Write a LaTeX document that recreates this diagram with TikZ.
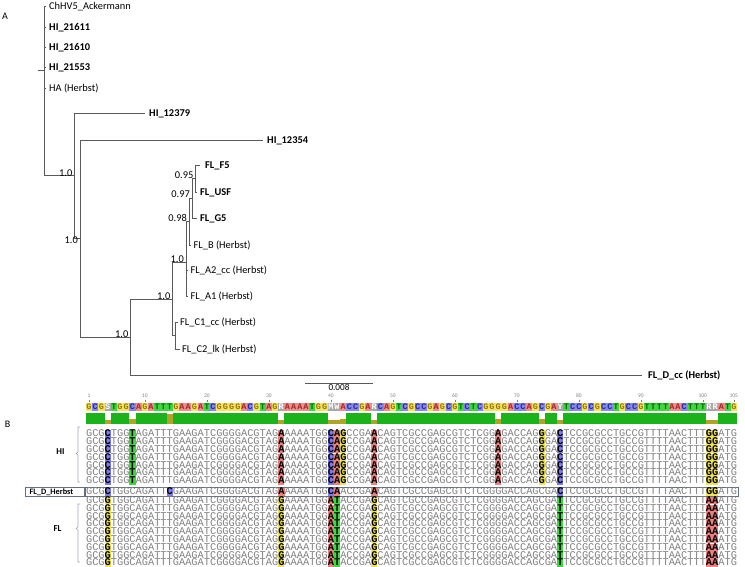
\documentclass[tikz,border=0pt]{standalone}
\usepackage{fontspec}
\setmainfont{Carlito}
\newfontfamily\seqfont{Liberation Mono}
\definecolor{treeline}{RGB}{90,90,90}
\definecolor{seqgray}{RGB}{128,128,128}
\definecolor{hlA}{RGB}{236,128,128}
\definecolor{hlC}{RGB}{124,124,236}
\definecolor{hlG}{RGB}{240,228,80}
\definecolor{hlT}{RGB}{60,216,60}
\definecolor{conA}{RGB}{238,140,140}
\definecolor{conC}{RGB}{136,136,230}
\definecolor{conG}{RGB}{244,226,100}
\definecolor{conT}{RGB}{64,214,64}
\definecolor{conN}{RGB}{168,168,168}
\colorlet{conS}{conN}\colorlet{conM}{conN}\colorlet{conW}{conN}
\colorlet{conR}{conN}\colorlet{conY}{conN}
\definecolor{txtA}{RGB}{160,40,40}
\definecolor{txtC}{RGB}{40,40,160}
\definecolor{txtG}{RGB}{150,120,0}
\definecolor{txtT}{RGB}{0,110,0}
\colorlet{txtS}{white}\colorlet{txtM}{white}\colorlet{txtW}{white}
\colorlet{txtR}{white}\colorlet{txtY}{white}
\definecolor{idgreen}{RGB}{28,178,28}
\definecolor{idolive}{RGB}{176,164,40}
\definecolor{boxgray}{RGB}{100,112,128}
\definecolor{bracegray}{RGB}{160,168,184}
\newcommand\mk[1]{\makebox[0pt][l]{\color{hl#1}\rule[-0.9pt]{6.2pt}{7.7pt}}\textcolor{black}{\bfseries #1}}
\newcommand\hiseq{GCG\mk{C}TGG\mk{T}AGATTTGAAGATCGGGGACGTAG\mk{A}AAAATGG\mk{C}\mk{A}\mk{G}CCGA\mk{A}CAGTCGCCGAGCGTCTCGG\mk{A}GACCAG\mk{G}GA\mk{C}TCCGCGCCTGCCGTTTTAACTTT\mk{G}\mk{G}ATG}
\newcommand\fldseq{GCG\mk{C}TGGCAGATT\mk{C}GAAGATCGGGGACGTAG\mk{A}AAAATGG\mk{C}\mk{A}ACCGA\mk{A}CAGTCGCCGAGCGTCTCGGGGACCAGCGA\mk{C}TCCGCGCCTGCCGTTTTAACTTT\mk{G}\mk{G}ATG}
\newcommand\flseq{GCG\mk{G}TGGCAGATTTGAAGATCGGGGACGTAG\mk{G}AAAATGG\mk{A}\mk{T}ACCGA\mk{G}CAGTCGCCGAGCGTCTCGGGGACCAGCGA\mk{T}TCCGCGCCTGCCGTTTTAACTTT\mk{A}\mk{A}ATG}
\begin{document}
\begin{tikzpicture}[x=1pt,y=-1pt,
  leaf/.style={anchor=west,inner xsep=3pt,inner ysep=0pt,text height=6.7pt,text depth=0pt,font=\fontsize{10.4}{12}\selectfont},
  strain/.style={leaf,font=\fontsize{10.4}{12}\selectfont\bfseries},
  supp/.style={anchor=south east,inner sep=0pt,font=\fontsize{10.4}{12}\selectfont},
  branch/.style={draw=treeline,line width=0.75pt},
  seqrow/.style={anchor=west,inner sep=0pt,text height=5.9pt,text depth=0pt,text=seqgray,font=\seqfont\fontsize{10.33}{10}\selectfont},
  cons/.style={inner sep=0pt,minimum width=6.2pt,minimum height=8.4pt,font=\seqfont\bfseries\fontsize{8.5}{8}\selectfont},
  ruler/.style={inner sep=0pt,text=gray,font=\fontsize{5.5}{6}\selectfont}]
\useasboundingbox (0,0) rectangle (745,567);
\node (pa) at (5,16) {\fontsize{10}{12}\selectfont A};
\node (pb) at (7.5,424) {\fontsize{10}{12}\selectfont B};

\coordinate (r0) at (38,70);
\coordinate (r) at (44,70);
\coordinate (n1) at (74,175.75);
\coordinate (n2) at (80,238.5);
\coordinate (n3) at (130,337);
\coordinate (n4) at (172,299);
\coordinate (n5) at (186,262.5);
\coordinate (n6) at (175,335.5);
\coordinate (n7) at (189,221.6);
\coordinate (n8) at (192,198.2);
\coordinate (n9) at (195,178.5);

\node[leaf] (chhv) at (46,6) {ChHV5\_Ackermann};
\node[strain] (hi21611) at (46,27) {HI\_21611};
\node[strain] (hi21610) at (46,47) {HI\_21610};
\node[strain] (hi21553) at (46,67) {HI\_21553};
\node[leaf] (ha) at (46,88) {HA (Herbst)};
\node[strain,inner xsep=4pt] (hi12379) at (145,113) {HI\_12379};
\node[strain,inner xsep=4pt] (hi12354) at (263,140) {HI\_12354};
\node[strain,inner xsep=5pt] (flf5) at (200,165) {FL\_F5};
\node[strain] (flusf) at (197,192) {FL\_USF};
\node[strain] (flg5) at (197,218) {FL\_G5};
\node[leaf,inner xsep=2.5pt] (flb) at (191,245) {FL\_B (Herbst)};
\node[leaf,inner xsep=2.5pt] (fla2) at (188,270) {FL\_A2\_cc (Herbst)};
\node[leaf,inner xsep=2.5pt] (fla1) at (188,296) {FL\_A1 (Herbst)};
\node[leaf,inner xsep=2.5pt] (flc1) at (177.5,322) {FL\_C1\_cc (Herbst)};
\node[leaf,inner xsep=2.5pt] (flc2) at (179.5,349) {FL\_C2\_lk (Herbst)};
\node[strain,inner xsep=6pt] (fldcc) at (642,375) {FL\_D\_cc (Herbst)};

\draw[branch] (r0) -- (r)
  (r) |- (chhv.west) (r) |- (hi21611.west) (r) |- (hi21610.west)
  (r) |- (hi21553.west) (r) |- (ha.west) (r) |- (n1)
  (n1) |- (hi12379.west) (n1) |- (n2)
  (n2) |- (hi12354.west) (n2) |- (n3)
  (n3) |- (n4) (n3) |- (fldcc.west)
  (n4) |- (n5) (n4) |- (n6)
  (n6) |- (flc1.west) (n6) |- (flc2.west)
  (n5) |- (n7) (n5) |- (fla2.west) (n5) |- (fla1.west)
  (n7) |- (n8) (n7) |- (flb.west)
  (n8) |- (n9) (n8) |- (flg5.west)
  (n9) |- (flf5.west) (n9) |- (flusf.west);

\node[supp] (s9) at ([xshift=-1.5pt]n9) {0.95};
\node[supp] (s8) at ([xshift=-2pt]n8) {0.97};
\node[supp] (s7) at ([xshift=-2pt]n7) {0.98};
\node[supp] (s5) at ([xshift=-2pt]n5) {1.0};
\node[supp] (s4) at ([xshift=-1.5pt,yshift=-1pt]n4) {1.0};
\node[supp] (s3) at ([xshift=-1.5pt,yshift=-1pt]n3) {1.0};
\node[supp] (s1) at ([xshift=-1.5pt,yshift=-1pt]n1) {1.0};
\node[supp,anchor=north east] (s2) at ([xshift=-2pt,yshift=2pt]n2) {1.0};

\coordinate (sb1) at (305,383);
\coordinate (sb2) at (373,383);
\draw[treeline,line width=0.75pt] (sb1) -- node[below=1pt,inner sep=0pt,text=black,font=\fontsize{9.2}{10}\selectfont] (sblab) {0.008} (sb2);

\foreach \n in {1,10,20,30,40,50,60,70,80,90,100,105}{
  \node[ruler] (t\n) at ({89+(\n-1)*6.2},396) {\n};
  \draw[gray,line width=0.4pt] ({89+(\n-1)*6.2},399.5) -- ({89+(\n-1)*6.2},402);
}
\foreach \b [count=\i] in {G,C,G,S,T,G,G,C,A,G,A,T,T,T,G,A,A,G,A,T,C,G,G,G,G,A,C,G,T,A,G,R,A,A,A,A,T,G,G,M,W,A,C,C,G,A,R,C,A,G,T,C,G,C,C,G,A,G,C,G,T,C,T,C,G,G,G,G,A,C,C,A,G,C,G,A,Y,T,C,C,G,C,G,C,C,T,G,C,C,G,T,T,T,T,A,A,C,T,T,T,R,R,A,T,G}
  \node[cons,fill=con\b,text=txt\b] (c\i) at ({89+(\i-1)*6.2},407) {\b};

\fill[idgreen] (85.9,413) rectangle (737.1,424);
\foreach \k/\h in {4/4.5,8/5,14/10,32/4.5,40/4.5,41/4.5,42/5,47/4.5,67/5,74/5,77/4.5,101/4.5,102/4.5}{
  \fill[white] ({85.9+(\k-1)*6.2},413) rectangle ++(6.2,11);
  \fill[idolive] ({85.9+(\k-1)*6.2},424) rectangle ++(6.2,-\h);
}

\foreach \k in {0,...,6}
  \node[seqrow] (hi\k) at (85.9,{434+7.8*\k}) {\hiseq};
\node[seqrow,draw=boxgray,line width=0.5pt,inner xsep=1pt,minimum height=9pt] (fld) at (84.9,492) {\fldseq};
\node[draw=boxgray,line width=0.5pt,anchor=east,minimum height=9pt,inner xsep=4pt,inner ysep=0pt,text width=51pt,font=\fontsize{8.3}{9}\selectfont\bfseries] (fldlab) at (fld.west) {FL\_D\_Herbst};
\foreach \k in {0,...,8}
  \node[seqrow] (fl\k) at (85.9,{500.6+7.8*\k}) {\flseq};

\draw[bracegray,line width=0.6pt] (80,427) -- (78,427) -- (78,452) -- (76,453.5) -- (78,455) -- (78,482) -- (80,482);
\draw[bracegray,line width=0.6pt] (80,504) -- (78,504) -- (78,527) -- (76,528.5) -- (78,530) -- (78,562) -- (80,562);
\node[font=\fontsize{9}{10}\selectfont\bfseries] (hilab) at (60.5,452) {HI};
\node[font=\fontsize{9}{10}\selectfont\bfseries] (fllab) at (57.5,529) {FL};
\end{tikzpicture}
\end{document}
